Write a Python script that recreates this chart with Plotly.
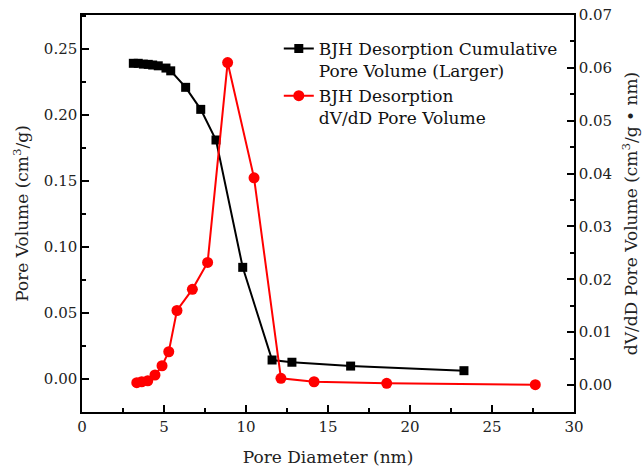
import plotly.graph_objects as go

# Cumulative pore volume (left axis)
cum_diameter = [3.13, 3.43, 3.74, 4.04, 4.31, 4.65, 5.12, 5.41, 6.32, 7.24, 8.17, 9.80, 11.59, 12.80, 16.38, 23.29]
cum_volume = [0.2392, 0.2392, 0.2386, 0.2384, 0.2379, 0.2373, 0.2356, 0.2335, 0.2210, 0.2043, 0.1811, 0.0846, 0.0144, 0.0127, 0.0098, 0.0063]

# dV/dD pore volume (right axis)
dvdd_diameter = [3.34, 3.64, 4.01, 4.45, 4.88, 5.29, 5.79, 6.73, 7.66, 8.88, 10.49, 12.13, 14.15, 18.58, 27.64]
dvdd_volume = [0.00044, 0.00062, 0.00081, 0.0019, 0.00365, 0.0063, 0.0141, 0.0181, 0.0232, 0.0610, 0.0392, 0.00127, 0.00062, 0.00032, 0.00006]

FONT = "DejaVu Serif"

fig = go.Figure()
fig.add_trace(go.Scatter(
    x=cum_diameter, y=cum_volume, mode="lines+markers",
    name="BJH Desorption Cumulative<br>Pore Volume (Larger)",
    line=dict(color="black", width=2),
    marker=dict(symbol="square", size=9, color="black"),
    yaxis="y",
))
fig.add_trace(go.Scatter(
    x=dvdd_diameter, y=dvdd_volume, mode="lines+markers",
    name="BJH Desorption<br>dV/dD Pore Volume",
    line=dict(color="#ff0000", width=2),
    marker=dict(symbol="circle", size=11, color="#ff0000"),
    yaxis="y2",
))

axis_common = dict(
    showgrid=False, zeroline=False, showline=True, linecolor="black", linewidth=1.5,
    ticks="inside", ticklen=7, tickwidth=1.5, tickcolor="black", automargin=False,
    tickfont=dict(family=FONT, size=15, color="#222"),
)

fig.update_layout(
    width=643, height=467,
    margin=dict(l=82, r=69, t=15, b=55),
    paper_bgcolor="white", plot_bgcolor="white",
    font=dict(family=FONT, color="#222"),
    showlegend=True,
    legend=dict(
        x=0.40, y=0.96, xanchor="left", yanchor="top",
        bgcolor="rgba(0,0,0,0)", font=dict(family=FONT, size=17, color="#111"),
        valign="top", tracegroupgap=0, itemwidth=30,
    ),
    xaxis=dict(
        range=[0, 30], dtick=5, tick0=0, mirror=True,
        minor=dict(ticks="inside", dtick=2.5, ticklen=4, tickwidth=1.5, tickcolor="black"),
        title=dict(text="Pore Diameter (nm)", font=dict(family=FONT, size=17, color="#222"), standoff=17),
        **axis_common,
    ),
    yaxis=dict(
        range=[-0.025, 0.2758], dtick=0.05, tick0=0, tickformat=".2f",
        minor=dict(ticks="inside", dtick=0.025, ticklen=4, tickwidth=1.5, tickcolor="black"),
        title=dict(text="Pore Volume (cm<sup>3</sup>/g)", font=dict(family=FONT, size=17, color="#222"), standoff=11),
        **axis_common,
    ),
    yaxis2=dict(
        range=[-0.0051, 0.07], dtick=0.01, tick0=0, tickformat=".2f",
        overlaying="y", side="right",
        minor=dict(ticks="inside", dtick=0.005, ticklen=4, tickwidth=1.5, tickcolor="black"),
        title=dict(text="dV/dD Pore Volume (cm<sup>3</sup>/g • nm)", font=dict(family=FONT, size=17, color="#222"), standoff=14),
        **axis_common,
    ),
)

fig.write_html("out.html")
